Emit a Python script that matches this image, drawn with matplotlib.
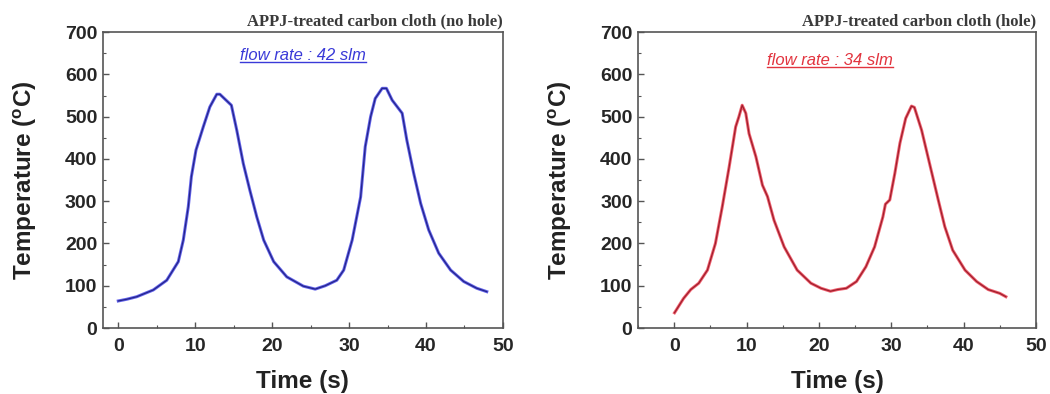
import matplotlib
matplotlib.use('Agg')
import matplotlib.pyplot as plt
from matplotlib.lines import Line2D
from matplotlib.ticker import MultipleLocator

# --- data ---
time_nohole = [0, 1.1, 2.4, 4.55, 6.3, 7.8, 8.45, 9.1, 9.5, 10.1, 11.05, 11.9, 12.8, 13.2,
               14.7, 15.4, 16.25, 17.1, 18.0, 18.9, 20.2, 21.9, 24.05, 25.6, 26.9, 28.4,
               29.3, 30.4, 31.5, 32.1, 32.8, 33.4, 34.3, 34.85, 35.6, 36.9, 37.5, 38.4,
               39.3, 40.35, 41.65, 43.2, 44.9, 46.6, 47.9]
temp_nohole = [64, 68, 74, 90, 113, 157, 208, 287, 358, 421, 476, 523, 553, 553,
               527, 468, 389, 326, 263, 208, 157, 121, 99, 92, 100, 113,
               137, 208, 310, 429, 500, 543, 567, 567, 539, 508, 445, 366,
               295, 232, 177, 137, 110, 94, 86]

time_hole = [0.05, 1.3, 2.3, 3.4, 4.6, 5.7, 6.65, 7.6, 8.5, 8.95, 9.4, 9.9, 10.35, 11.3,
             12.2, 12.9, 13.8, 15.2, 17.0, 18.9, 20.3, 21.6, 22.6, 23.8, 25.2, 26.5,
             27.7, 28.85, 29.2, 29.8, 30.5, 31.2, 32.0, 32.8, 33.2, 34.2, 35.3, 36.5,
             37.4, 38.5, 40.2, 41.8, 43.4, 45.0, 45.85]
temp_hole = [36, 70, 91, 106, 137, 200, 287, 381, 476, 500, 527, 508, 460, 405,
             338, 311, 255, 192, 137, 106, 94, 87, 91, 94, 110, 145,
             192, 263, 293, 303, 366, 437, 496, 525, 522, 468, 389, 303,
             240, 184, 137, 110, 91, 82, 74]

titles = ['APPJ-treated carbon cloth (no hole)', 'APPJ-treated carbon cloth (hole)']
notes = ['flow rate : 42 slm', 'flow rate : 34 slm']
note_pos = [(24, 645), (21.5, 634)]
colors = ['#3c3ce6', '#ec3a4c']
core_colors = ['#24248a', '#a01e2c']
note_colors = ['#3a3ad8', '#e2343f']
xmins = [-2, -5]

plt.rcParams['font.family'] = ['Liberation Sans', 'DejaVu Sans']
plt.rcParams['mathtext.fontset'] = 'custom'
plt.rcParams['mathtext.rm'] = 'Liberation Sans:bold'
plt.rcParams['mathtext.bf'] = 'Liberation Sans:bold'

fig = plt.figure(figsize=(10.5, 3.94), dpi=100)
ax1 = fig.add_axes([0.098, 0.1675, 0.381, 0.751])
ax2 = fig.add_axes([0.6076, 0.1675, 0.379, 0.751])

series = [(time_nohole, temp_nohole), (time_hole, temp_hole)]
note_texts = []
for i, ax in enumerate([ax1, ax2]):
    t, temp = series[i]
    # coloured halo with a dark core, like the scanned original
    ax.plot(t, temp, color=colors[i], lw=2.2, alpha=0.8)
    ax.plot(t, temp, color=core_colors[i], lw=0.9)
    ax.set_xlim(xmins[i], 50)
    ax.set_ylim(0, 700)
    ax.xaxis.set_major_locator(MultipleLocator(10))
    ax.xaxis.set_minor_locator(MultipleLocator(5))
    ax.yaxis.set_major_locator(MultipleLocator(100))
    ax.yaxis.set_minor_locator(MultipleLocator(50))
    ax.tick_params(which='both', direction='in', top=False, right=False, colors='#555555')
    ax.tick_params(which='major', length=4, width=1.0)
    ax.tick_params(which='minor', length=2.5, width=0.8)
    ax.tick_params(axis='x', pad=7)
    ax.tick_params(axis='y', pad=4)
    for lab in ax.get_xticklabels() + ax.get_yticklabels():
        lab.set_fontsize(14)
        lab.set_fontweight('bold')
        lab.set_color('#262626')
    for s in ax.spines.values():
        s.set_color('#555555')
        s.set_linewidth(1.2)
    ax.set_xlabel('Time (s)', fontsize=17.5, fontweight='bold', color='#222222', labelpad=11)
    ax.set_ylabel(r'Temperature ($^{\mathrm{o}}$C)', fontsize=17.5, fontweight='bold',
                  color='#222222', labelpad=19)
    ax.set_title(titles[i], loc='right', fontsize=12, fontweight='bold',
                 family='Liberation Serif', color='#3a3a3a', pad=5)
    txt = ax.text(note_pos[i][0], note_pos[i][1], notes[i], ha='center', va='center',
                  fontsize=12, style='italic', color=note_colors[i])
    note_texts.append(txt)

# underline the flow-rate notes
fig.canvas.draw()
renderer = fig.canvas.get_renderer()
for i, txt in enumerate(note_texts):
    bb = txt.get_window_extent(renderer).transformed(fig.transFigure.inverted())
    y = bb.y0 + 0.002
    fig.add_artist(Line2D([bb.x0, bb.x1], [y, y], transform=fig.transFigure,
                          color=note_colors[i], lw=1.0))

fig.savefig('out.png', dpi=100)
